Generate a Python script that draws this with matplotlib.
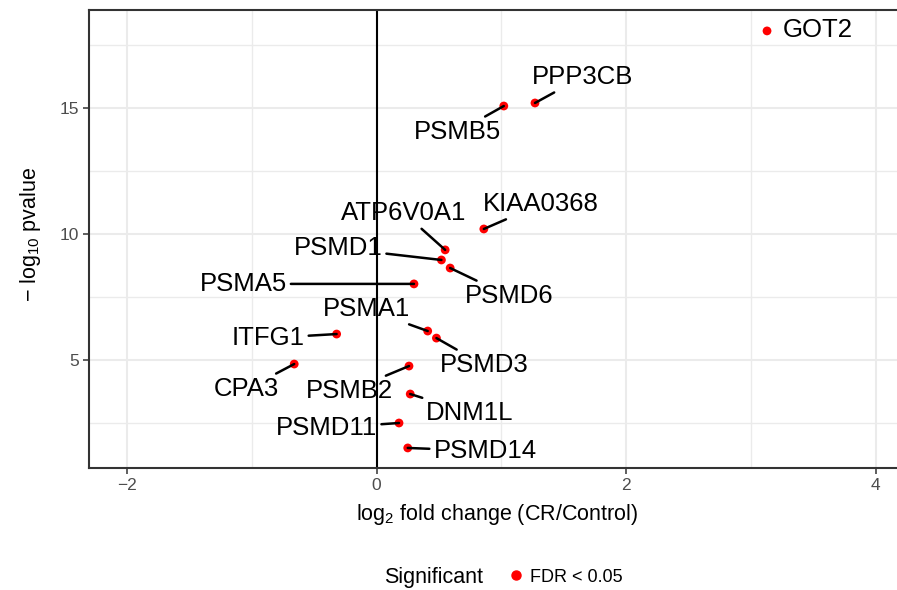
import numpy as np
import matplotlib
matplotlib.use("Agg")
import matplotlib.pyplot as plt
from matplotlib.lines import Line2D
from matplotlib.ticker import MultipleLocator

plt.rcParams['font.family'] = ['Liberation Sans', 'DejaVu Sans']
plt.rcParams['mathtext.fontset'] = 'custom'
plt.rcParams['mathtext.rm'] = 'Liberation Sans'
plt.rcParams['mathtext.it'] = 'Liberation Sans:italic'

# genes, log2 fold change, -log10 pvalue
genes = ['GOT2', 'PPP3CB', 'PSMB5', 'KIAA0368', 'ATP6V0A1', 'PSMD1', 'PSMD6',
         'PSMA5', 'PSMA1', 'PSMD3', 'ITFG1', 'CPA3', 'PSMB2', 'DNM1L',
         'PSMD11', 'PSMD14']
log2fc = [3.13, 1.27, 1.02, 0.86, 0.55, 0.52, 0.59,
          0.30, 0.41, 0.48, -0.32, -0.66, 0.26, 0.27,
          0.18, 0.25]
neglogp = [18.06, 15.20, 15.08, 10.20, 9.37, 8.97, 8.65,
           8.02, 6.15, 5.87, 6.03, 4.84, 4.76, 3.65,
           2.50, 1.51]

# where the repelled labels ended up (data units)
label_x = [3.54, 1.65, 0.65, 1.32, 0.22, -0.31, 1.06,
           -1.07, -0.08, 0.86, -0.87, -1.04, -0.22, 0.75,
           -0.40, 0.87]
label_y = [18.10, 16.23, 14.05, 11.19, 10.83, 9.44, 7.54,
           8.02, 7.02, 4.80, 5.87, 3.85, 3.77, 2.90,
           2.30, 1.39]


def main():
    fig = plt.figure(figsize=(8.97, 5.9), dpi=100)
    ax = fig.add_axes([89 / 897, 1 - 468 / 590, 817 / 897, 458 / 590])

    ax.set_xlim(-2.305, 4.244)
    ax.set_ylim(0.714, 18.89)

    ax.xaxis.set_major_locator(MultipleLocator(2))
    ax.xaxis.set_minor_locator(MultipleLocator(1))
    ax.yaxis.set_major_locator(MultipleLocator(5))
    ax.yaxis.set_minor_locator(MultipleLocator(2.5))
    ax.grid(which='major', color='#EBEBEB', lw=1.5)
    ax.grid(which='minor', color='#EBEBEB', lw=1.0)
    ax.set_axisbelow(True)
    ax.tick_params(which='minor', length=0)
    ax.tick_params(which='major', length=4, width=1.1, color='#333333',
                   labelsize=12.5, labelcolor='#4D4D4D', pad=3)
    for s in ax.spines.values():
        s.set_color('#333333')
        s.set_linewidth(1.5)

    ax.axvline(0, color='black', lw=1.5, zorder=2)

    ax.scatter(log2fc, neglogp, s=40, color='red', zorder=4,
               edgecolors='none')

    for g, x, y, tx, ty in zip(genes, log2fc, neglogp, label_x, label_y):
        if g == 'GOT2':
            ax.text(tx, ty, g, fontsize=18.5, ha='center', va='center', zorder=5)
            continue
        ax.annotate(g, xy=(x, y), xytext=(tx, ty), fontsize=18.5,
                    ha='center', va='center', zorder=5,
                    arrowprops=dict(arrowstyle='-', color='black', lw=1.8,
                                    shrinkA=1, shrinkB=0))

    ax.set_xlabel('log$_2$ fold change (CR/Control)', fontsize=15.5, labelpad=7)
    ax.set_ylabel('$-$ log$_{10}$ pvalue', fontsize=15.5)
    ax.yaxis.set_label_coords(-0.056, 0.51)

    # legend at the bottom
    fig.text(434 / 897, 1 - 577 / 590, 'Significant', fontsize=15.5,
             ha='center', va='center')
    handle = Line2D([], [], marker='o', color='red', ls='none', markersize=6.5)
    fig.legend(handles=[handle], labels=['FDR < 0.05'], loc='center',
               bbox_to_anchor=(565 / 897, 1 - 577 / 590), frameon=False,
               fontsize=13, handletextpad=0.3, handlelength=1.0)

    fig.savefig('out.png', dpi=100)


if __name__ == "__main__":
    main()
